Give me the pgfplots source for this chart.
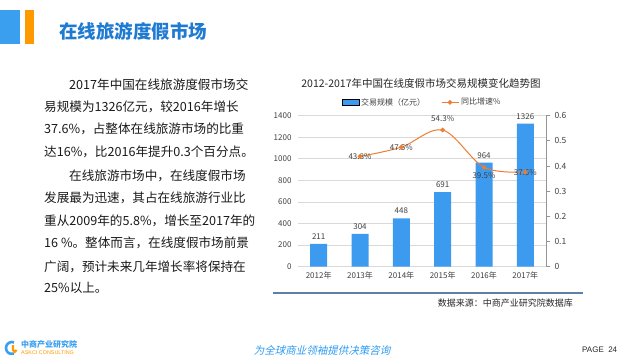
\documentclass[border=0pt]{standalone}
\usepackage{fontspec}
\setmainfont{Noto Sans CJK SC}
\newfontfamily\slantcjk[FakeSlant=0.22]{Noto Sans CJK SC}
\newfontfamily\logofont{Liberation Sans}
\usepackage{pgfplots}
\pgfplotsset{compat=1.18}
\definecolor{barblue}{HTML}{3D9BEF}
\definecolor{lineorange}{HTML}{ED7D31}
\definecolor{headblue}{HTML}{3A9FEF}
\definecolor{headorange}{HTML}{FF9900}
\definecolor{titleblue}{HTML}{1F7AD1}
\definecolor{gridgray}{HTML}{D9D9D9}
\definecolor{ticktext}{HTML}{404040}
\definecolor{rulecol}{HTML}{5B80AA}
\definecolor{slogan}{HTML}{2D9BF2}
\begin{document}
\begin{tikzpicture}[x=1bp,y=1bp]
\path[use as bounding box] (0,0) rectangle (625,360);
% header
\fill[headblue] (0,316) rectangle (20,350);
\fill[headorange] (25,316) rectangle (34,350);
\node[anchor=west,inner sep=0pt,text=titleblue,font=\fontsize{18.5bp}{20bp}\selectfont\bfseries] at (59,329) {在线旅游度假市场};
% body text
\begin{scope}[every node/.style={anchor=west,inner sep=0pt,text=black!90,font=\fontsize{12.6bp}{14bp}\selectfont}]
\node at (69,275) {2017年中国在线旅游度假市场交};
\node at (44,253) {易规模为1326亿元，较2016年增长};
\node at (44,231) {37.6\%，占整体在线旅游市场的比重};
\node at (44,208) {达16\%，比2016年提升0.3个百分点。};
\node at (69,184) {在线旅游市场中，在线度假市场};
\node at (44,162) {发展最为迅速，其占在线旅游行业比};
\node at (44,139) {重从2009年的5.8\%，增长至2017年的};
\node at (44,117) {16 \%。整体而言，在线度假市场前景};
\node at (44,93) {广阔，预计未来几年增长率将保持在};
\node at (44,72) {25\%以上。};
\end{scope}
% chart title
\node[text=black!85,font=\fontsize{10.5bp}{12bp}\selectfont] at (421,277) {2012-2017年中国在线度假市场交易规模变化趋势图};
% bar axis
\begin{axis}[
  at={(298bp,93.3bp)}, anchor=south west, scale only axis,
  width=248bp, height=151bp,
  xmin=-0.5, xmax=5.5, ymin=0, ymax=1400,
  ytick={0,200,400,600,800,1000,1200,1400},
  xtick={0,1,2,3,4,5},
  xticklabels={2012年,2013年,2014年,2015年,2016年,2017年},
  axis line style={draw=none},
  major tick length=0pt,
  ymajorgrids, grid style={gridgray, line width=0.8pt},
  tick label style={text=ticktext, font=\fontsize{8bp}{9bp}\selectfont},
  /pgf/number format/assume math mode=true,
  /pgf/number format/1000 sep={},
  yticklabel style={xshift=-3bp},
  xticklabel style={yshift=-2bp},
  scaled y ticks=false,
  clip=false,
]
\addplot[ybar, bar width=17bp, fill=barblue, draw=none,
  nodes near coords,
  every node near coord/.style={text=ticktext, font=\fontsize{8bp}{9bp}\selectfont, yshift=1bp}]
  coordinates {(0,211) (1,304) (2,448) (3,691) (4,964) (5,1326)};
\end{axis}
% line axis
\begin{axis}[
  at={(298bp,93.3bp)}, anchor=south west, scale only axis,
  width=248bp, height=151bp,
  xmin=-0.5, xmax=5.5, ymin=0, ymax=0.6,
  axis x line=none,
  axis y line*=right,
  y axis line style={draw=gray!85, line width=0.8pt, -},
  ytick={0,0.1,0.2,0.3,0.4,0.5,0.6},
  yticklabels={0,0.1,0.2,0.3,0.4,0.5,0.6},
  tick align=outside, major tick length=4bp,
  tick style={gray!85, line width=0.8pt},
  tick label style={text=ticktext, font=\fontsize{8.5bp}{9bp}\selectfont},
  yticklabel style={xshift=1bp},
  clip=false,
  legend style={at={(0.5,1)}, anchor=south, yshift=5bp, draw=none, fill=none,
    legend columns=2, font=\fontsize{8bp}{9bp}\selectfont, text=ticktext,
    /tikz/every even column/.append style={column sep=14bp}},
]
\addlegendimage{area legend, fill=barblue, draw=none}
\addlegendentry{交易规模（亿元）}
\addplot[lineorange, line width=1pt, smooth, tension=0.55, mark=*, mark size=1.8bp,
  mark options={fill=lineorange, draw=lineorange}]
  coordinates {(1,0.438) (2,0.475) (3,0.543) (4,0.395) (5,0.376)};
\addlegendentry{同比增速\%}
\begin{scope}[every node/.style={text=ticktext, font=\fontsize{8bp}{9bp}\selectfont, inner sep=0pt}]
\node at (axis cs:1,0.438) {43.8\%};
\node at (axis cs:2,0.475) {47.5\%};
\node[above=8bp] at (axis cs:3,0.543) {54.3\%};
\node[below=5bp] at (axis cs:4,0.395) {39.5\%};
\node at (axis cs:5,0.376) {37.6\%};
\end{scope}
\end{axis}
% bottom rule and source
\draw[rulecol, line width=1.3pt] (273,67) -- (583,67);
\node[anchor=east, inner sep=0pt, text=black!85, font=\fontsize{9bp}{10bp}\selectfont] at (573,57) {数据来源：中商产业研究院数据库};
% footer logo
\draw[headblue, line width=2.6pt] (12,12) ++(70:6) arc (70:290:6);
\draw[headorange, line width=2.2pt] (13,15) -- (13,10) arc (180:360:1.8) ;
\node[anchor=west, inner sep=0pt, text=headblue, font=\fontsize{8bp}{9bp}\selectfont\bfseries] at (21,16) {中商产业研究院};
\node[anchor=west, inner sep=0pt, text=headorange, font=\logofont\fontsize{5.4bp}{6bp}\selectfont] at (21,7) {ASKCI CONSULTING};
\node[inner sep=0pt, text=slogan, font=\slantcjk\fontsize{10.5bp}{12bp}\selectfont] at (322,9.5) {为全球商业领袖提供决策咨询};
\node[anchor=west, inner sep=0pt, text=black!85, font=\logofont\fontsize{8bp}{9bp}\selectfont] at (582,10.5) {PAGE\ \ 24};
\end{tikzpicture}
\end{document}
